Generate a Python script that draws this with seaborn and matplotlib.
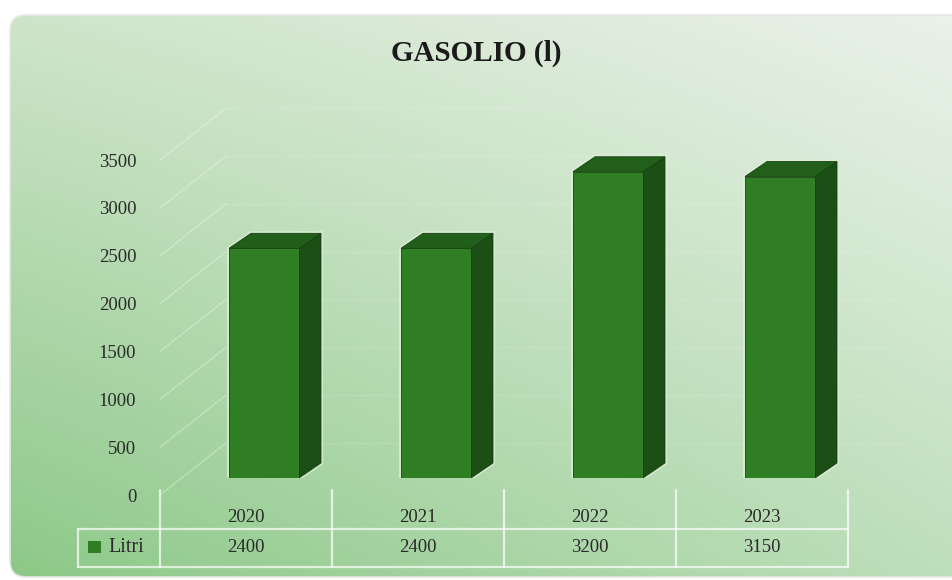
# GASOLIO chart - 3D-looking bars with a data table underneath

import numpy as np
import seaborn as sns
import matplotlib.pyplot as plt
from matplotlib.patches import Polygon, Rectangle, FancyBboxPatch

# data
years = ["2020", "2021", "2022", "2023"]
litri = [2400, 2400, 3200, 3150]
y_ticks = [0, 500, 1000, 1500, 2000, 2500, 3000, 3500]
series_name = "Litri"
title = "GASOLIO (l)"

# colours
front_col = "#307e24"
side_col = "#1b4f15"
top_col = "#225f1a"
edge_col = "#17420f"
text_col = "#2b2b2b"

sns.set_theme(style="white")
plt.rcParams["font.family"] = ["Liberation Serif", "DejaVu Serif"]

W, H = 952, 580
fig = plt.figure(figsize=(W / 100, H / 100), dpi=100)
fig.patch.set_facecolor("white")

def rect(left, top, right, bottom):
    # pixel box -> figure fraction
    return [left / W, 1 - bottom / H, (right - left) / W, (bottom - top) / H]

# background card with a soft green gradient
bg = fig.add_axes([0, 0, 1, 1], zorder=-10)
bg.set_xlim(0, W)
bg.set_ylim(H, 0)
bg.axis("off")
xn, yn = np.meshgrid(np.linspace(0, 1, 200), np.linspace(0, 1, 120))
tl = np.array([208, 229, 203]); tr = np.array([235, 242, 234])
bl = np.array([140, 200, 135]); br = np.array([190, 223, 187])
grad = ((1 - xn)[..., None] * (1 - yn)[..., None] * tl + xn[..., None] * (1 - yn)[..., None] * tr
        + (1 - xn)[..., None] * yn[..., None] * bl + xn[..., None] * yn[..., None] * br) / 255
card = FancyBboxPatch((10, 15), 980, 562, boxstyle="round,pad=0,rounding_size=16",
                      facecolor="none", edgecolor="#e6e9e4", linewidth=1.2)
bg.add_patch(card)
img = bg.imshow(grad, extent=(0, W, H, 0), aspect="auto", interpolation="bicubic")
img.set_clip_path(card)

# scale: px per unit
scale = 0.0957
ymax = 3700
floor_px = 495

# axis with ticks / walls / table
ax = fig.add_axes(rect(160, floor_px - ymax * scale, 848, floor_px))
ax.set_facecolor("none")
ax.set_xlim(-0.5, 3.5)
ax.set_ylim(0, ymax)
for s in ax.spines.values():
    s.set_visible(False)
ax.set_xticks([])
ax.set_yticks(y_ticks)
ax.set_yticklabels([str(v) for v in y_ticks], fontsize=13.5, color=text_col)
ax.tick_params(axis="y", length=0, pad=17)

# faint wall grid lines (side wall + back wall)
wall_dx = 66 / 172
wall_dy = 52 / scale
for v in y_ticks:
    ax.plot([-0.5, -0.5 + wall_dx], [v, v + wall_dy], color="white", alpha=0.3, lw=1, clip_on=False)
    ax.plot([-0.5 + wall_dx, 3.5 + 0.33], [v + wall_dy, v + wall_dy], color="white", alpha=0.13, lw=1, clip_on=False)

# data table below the chart
px = lambda p: -p / scale  # pixels below floor -> data units
row_line = px(529 - floor_px)
table_bottom = px(567 - floor_px)
left_edge = -0.5 - 82 / 172
line_kw = dict(color="white", alpha=0.7, lw=1.6, clip_on=False)
for i in range(len(years) + 1):
    ax.plot([i - 0.5, i - 0.5], [px(-5), table_bottom], **line_kw)
ax.plot([left_edge, 3.5], [row_line, row_line], **line_kw)
ax.plot([left_edge, 3.5], [table_bottom, table_bottom], **line_kw)
ax.plot([left_edge, left_edge], [row_line, table_bottom], **line_kw)
for i, (yr, v) in enumerate(zip(years, litri)):
    ax.text(i, px(517 - floor_px), yr, ha="center", va="center", fontsize=13.5, color=text_col, clip_on=False)
    ax.text(i, px(548 - floor_px), f"{v}", ha="center", va="center", fontsize=13.5, color=text_col, clip_on=False)
ax.add_patch(Rectangle((-0.5 - 72 / 172, px(553 - floor_px)), 13 / 172, 12 / scale,
                       facecolor=front_col, edgecolor="none", clip_on=False))
ax.text(-0.5 - 52 / 172, px(547 - floor_px), series_name, ha="left", va="center",
        fontsize=14.5, color=text_col, clip_on=False)

# bars axis (front plane shifted down-left of the wall)
axb = fig.add_axes(rect(178, 478 - ymax * scale, 866, 478))
axb.set_facecolor("none")
sns.barplot(x=years, y=litri, ax=axb, color=front_col, saturation=1, width=0.407,
            edgecolor=edge_col, linewidth=0.6, zorder=3)
axb.set_xlim(-0.5, 3.5)
axb.set_ylim(0, ymax)
axb.axis("off")

# 3D side and top faces
dx = 22 / 172
dy = 15 / scale
for p in axb.patches:
    x0, w, h = p.get_x(), p.get_width(), p.get_height()
    x1 = x0 + w
    halo = Polygon([(x0, 0), (x1, 0), (x1 + dx, dy), (x1 + dx, h + dy), (x0 + dx, h + dy), (x0, h)],
                   closed=True, facecolor="none", edgecolor="#e2f0dc", lw=3, zorder=1, alpha=0.7)
    side = Polygon([(x1, 0), (x1 + dx, dy), (x1 + dx, h + dy), (x1, h)],
                   closed=True, facecolor=side_col, edgecolor=edge_col, lw=0.6, zorder=2)
    top = Polygon([(x0, h), (x0 + dx, h + dy), (x1 + dx, h + dy), (x1, h)],
                  closed=True, facecolor=top_col, edgecolor=edge_col, lw=0.6, zorder=2)
    axb.add_patch(halo)
    axb.add_patch(side)
    axb.add_patch(top)

fig.text(476 / W, 1 - 53 / H, title, ha="center", va="center", fontsize=21,
         fontweight="bold", color="#1a1a1a")

fig.savefig("out.png", dpi=100)
